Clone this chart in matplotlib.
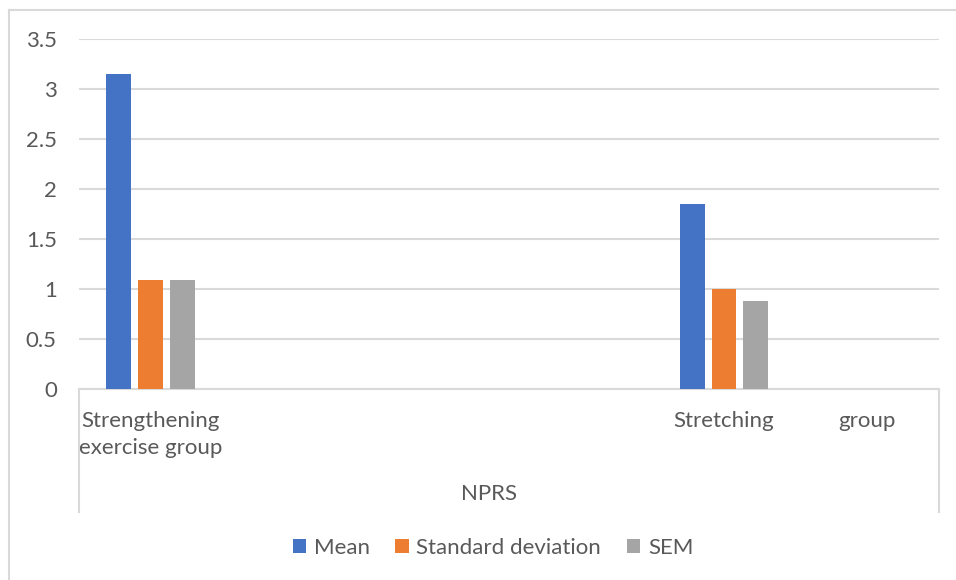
import matplotlib.pyplot as plt
from matplotlib.patches import Patch
from matplotlib.lines import Line2D
import numpy as np

CATEGORIES = ['Strengthening\nexercise group', '', '', '', 'Stretching', 'group']
MEAN = [3.15, 0, 0, 0, 1.85, 0]
STD_DEV = [1.09, 0, 0, 0, 1.00, 0]
SEM = [1.09, 0, 0, 0, 0.88, 0]
SERIES = ['Mean', 'Standard deviation', 'SEM']
COLORS = ['#4472c4', '#ed7d31', '#a5a5a5']
GROUP_LABEL = 'NPRS'

TEXT_COLOR = '#595959'
LINE_COLOR = '#d9d9d9'
FONT = ['Lato', 'DejaVu Sans']
FS = 16

plt.rcParams['font.family'] = FONT

W, H = 956, 580
fig = plt.figure(figsize=(W / 100, H / 100), dpi=100)
ax = fig.add_axes([79 / W, 1 - 389 / H, (939 - 79) / W, (389 - 39) / H])

x = np.arange(len(CATEGORIES))
bar_w = 0.174
offset = 0.223
for i, (vals, color) in enumerate(zip([MEAN, STD_DEV, SEM], COLORS)):
    ax.bar(x + (i - 1) * offset, vals, width=bar_w, color=color, zorder=3)

ax.set_xlim(-0.5, len(CATEGORIES) - 0.5)
ax.set_ylim(0, 3.5)
ax.set_yticks(np.arange(0, 3.51, 0.5))
ax.set_yticklabels(['0', '0.5', '1', '1.5', '2', '2.5', '3', '3.5'])
ax.set_xticks(x)
ax.set_xticklabels(CATEGORIES, linespacing=1.45)
ax.yaxis.grid(True, color=LINE_COLOR, linewidth=1.5, zorder=0)
ax.tick_params(axis='both', length=0, labelsize=FS, colors=TEXT_COLOR)
ax.tick_params(axis='y', pad=16)
ax.tick_params(axis='x', pad=16)
for label in ax.get_xticklabels():
    label.set_verticalalignment('top')
for side in ['top', 'right', 'left']:
    ax.spines[side].set_visible(False)
ax.spines['bottom'].set_color(LINE_COLOR)
ax.spines['bottom'].set_linewidth(1.5)

# outer grouping level of the category axis
for px in (79, 939):
    fig.add_artist(Line2D([px / W, px / W], [1 - 389 / H, 1 - 512 / H],
                          color=LINE_COLOR, linewidth=1.5))
fig.text(489 / W, 1 - 494 / H, GROUP_LABEL, ha='center', va='center',
         fontsize=FS, color=TEXT_COLOR)

# chart border
fig.add_artist(Line2D([8.5 / W, 8.5 / W], [0, 1 - 10 / H], color=LINE_COLOR, linewidth=1.5))
fig.add_artist(Line2D([8.5 / W, 1], [1 - 10 / H, 1 - 10 / H], color=LINE_COLOR, linewidth=1.5))

handles = [Patch(facecolor=c, edgecolor='none') for c in COLORS]
fig.legend(handles, SERIES, loc='center', bbox_to_anchor=(493 / W, 1 - 548 / H),
           ncol=3, frameon=False, fontsize=FS, labelcolor=TEXT_COLOR,
           handlelength=0.6, handleheight=0.6, handletextpad=0.35,
           columnspacing=1.15)

fig.savefig('out.png', dpi=100)
